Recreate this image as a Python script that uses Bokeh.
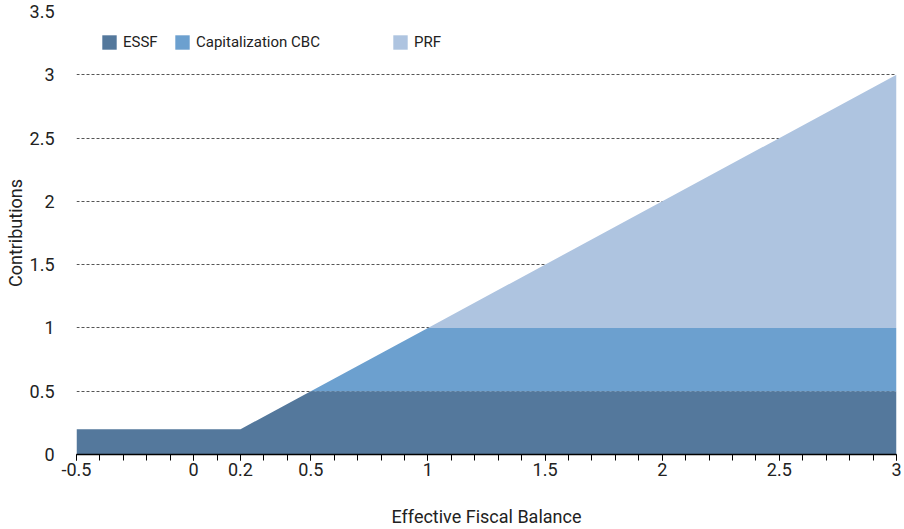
from bokeh.plotting import figure
from bokeh.models import Legend, LegendItem, FixedTicker, Range1d, ColumnDataSource
from bokeh.embed import file_html
from bokeh.resources import INLINE

# Data
x_vals = [-0.5, 0.2, 0.5, 1.0, 3.0]
essf = [0.2, 0.2, 0.5, 0.5, 0.5]
cbc = [0.0, 0.0, 0.0, 0.5, 0.5]
prf = [0.0, 0.0, 0.0, 0.0, 2.0]
series_names = ["ESSF", "Capitalization CBC", "PRF"]
series_colors = ["#54789C", "#6CA0CF", "#AEC4E0"]

x_tick_vals = [-0.5, 0, 0.2, 0.5, 1, 1.5, 2, 2.5, 3]
x_tick_labels = ["-0.5", "0", "0.2", "0.5", "1", "1.5", "2", "2.5", "3"]
x_minor_vals = [round(-0.5 + 0.1 * i, 1) for i in range(36)]
y_tick_vals = [0, 0.5, 1, 1.5, 2, 2.5, 3, 3.5]
y_tick_labels = ["0", "0.5", "1", "1.5", "2", "2.5", "3", "3.5"]

FONT = "Roboto"
TXT = "#222222"

src = ColumnDataSource(dict(x=x_vals, essf=essf, cbc=cbc, prf=prf))

p = figure(width=904, height=529, output_backend="svg", toolbar_location=None,
           x_range=Range1d(-0.5, 3), y_range=Range1d(0, 3.5),
           min_border_left=76, min_border_right=8, min_border_top=11, min_border_bottom=74)
p.outline_line_color = None
p.background_fill_color = "white"

rs = p.varea_stack(["essf", "cbc", "prf"], x="x", source=src, color=series_colors)

# Axes
xa = p.xaxis[0]
xa.ticker = FixedTicker(ticks=x_tick_vals, minor_ticks=x_minor_vals)
xa.major_label_overrides = {v: l for v, l in zip(x_tick_vals, x_tick_labels)}
xa.axis_line_color = "black"
xa.axis_line_width = 1.5
xa.major_tick_line_color = "black"
xa.minor_tick_line_color = "black"
xa.major_tick_out = 6
xa.major_tick_in = 0
xa.minor_tick_out = 6
xa.minor_tick_in = 0
xa.major_label_standoff = 2
xa.major_label_text_font = FONT
xa.major_label_text_font_size = "18px"
xa.major_label_text_color = TXT
xa.axis_label = "Effective Fiscal Balance"
xa.axis_label_text_font = FONT
xa.axis_label_text_font_size = "18px"
xa.axis_label_text_font_style = "normal"
xa.axis_label_text_color = TXT
xa.axis_label_standoff = 27

ya = p.yaxis[0]
ya.ticker = FixedTicker(ticks=y_tick_vals, minor_ticks=[])
ya.major_label_overrides = {v: l for v, l in zip(y_tick_vals, y_tick_labels)}
ya.axis_line_color = None
ya.major_tick_line_color = None
ya.minor_tick_line_color = None
ya.major_tick_out = 0
ya.major_tick_in = 0
ya.major_label_standoff = 22
ya.major_label_text_font = FONT
ya.major_label_text_font_size = "18px"
ya.major_label_text_color = TXT
ya.axis_label = "Contributions"
ya.axis_label_text_font = FONT
ya.axis_label_text_font_size = "18px"
ya.axis_label_text_font_style = "normal"
ya.axis_label_text_color = TXT
ya.axis_label_standoff = 1

p.xgrid.grid_line_color = None
p.ygrid.ticker = FixedTicker(ticks=y_tick_vals[1:])
p.ygrid.grid_line_color = "#555555"
p.ygrid.grid_line_dash = "3 2"
p.ygrid.grid_line_width = 1

# Legends (positioned individually)
legend_pos = [(24, 403), (97, 403), (315, 403)]
for r, name, pos in zip(rs, series_names, legend_pos):
    lg = Legend(items=[LegendItem(label=name, renderers=[r])], location=pos,
                orientation="horizontal", glyph_width=18, glyph_height=18,
                label_standoff=5, padding=0, margin=0, spacing=0,
                border_line_color=None, background_fill_alpha=0,
                label_text_font=FONT, label_text_font_size="15px",
                label_text_color=TXT, label_height=18)
    p.add_layout(lg, "center")

open("out.html", "w").write(file_html(p, INLINE))
